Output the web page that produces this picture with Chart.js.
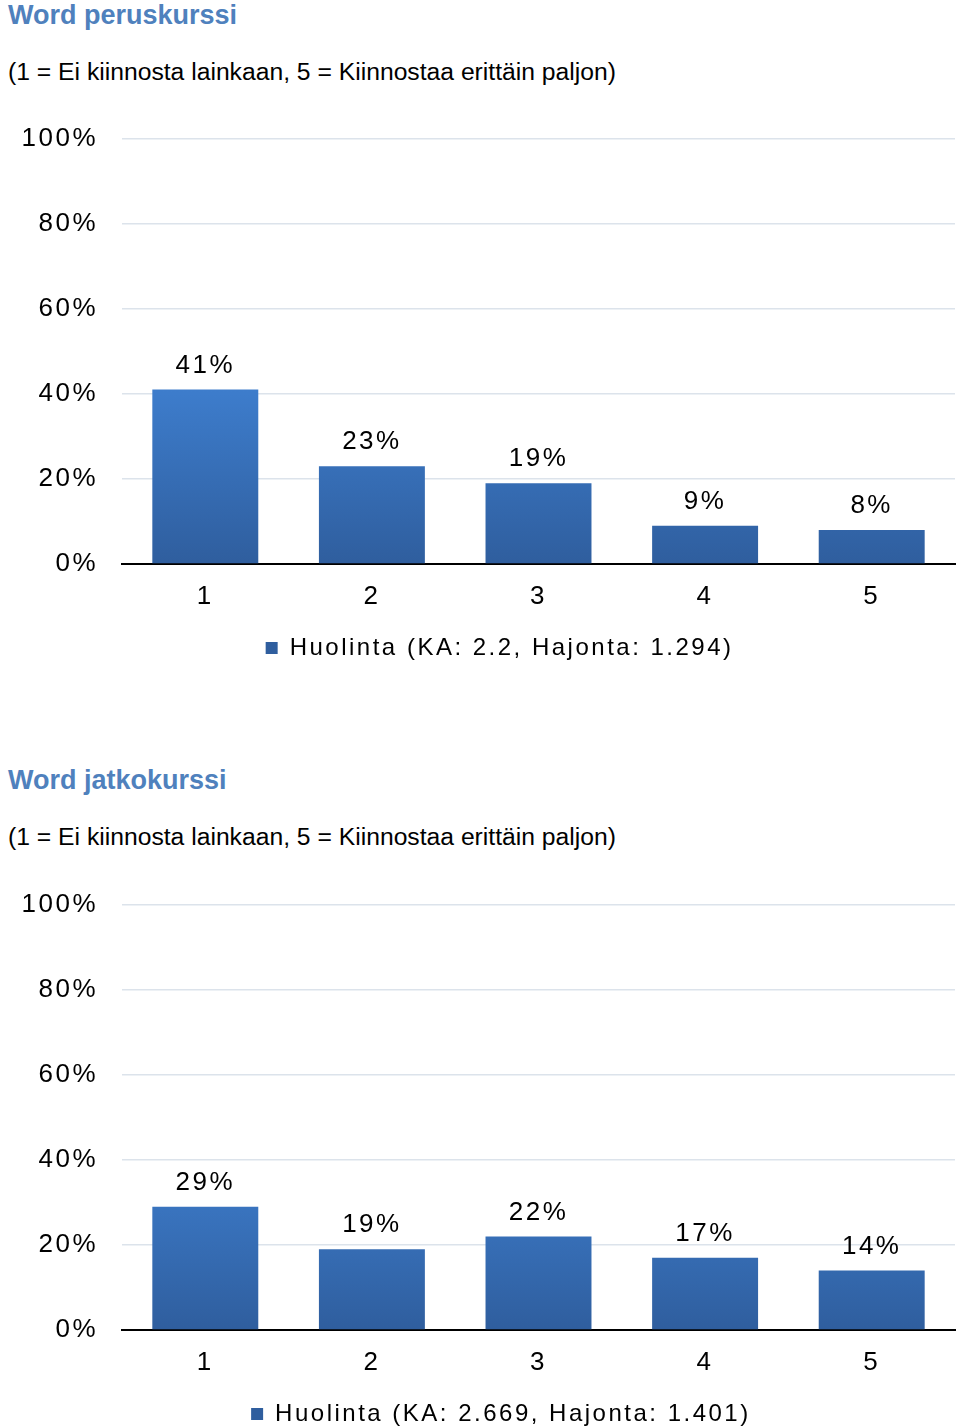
<!DOCTYPE html>
<html>
<head>
<meta charset="utf-8">
<script src="https://cdn.jsdelivr.net/npm/chart.js@4.4.1/dist/chart.umd.min.js"></script>
<style>
  body { margin: 0; width: 960px; height: 1427px; overflow: hidden; background: #fff; font-family: "Liberation Sans", Arial, sans-serif; position: relative; }
  .title { position: absolute; left: 8px; font-weight: bold; font-size: 27px; color: #4F81BD; line-height: 30px; }
  .sub { position: absolute; left: 8px; font-size: 24.7px; color: #000; line-height: 28px; }
  .box { position: absolute; left: 0; width: 960px; height: 571px; }
</style>
</head>
<body>
<div class="title" style="top:0px">Word peruskurssi</div>
<div class="sub" style="top:58px">(1 = Ei kiinnosta lainkaan, 5 = Kiinnostaa erittäin paljon)</div>
<div class="box" style="top:99px"><canvas id="perus"></canvas></div>

<div class="title" style="top:765px">Word jatkokurssi</div>
<div class="sub" style="top:823px">(1 = Ei kiinnosta lainkaan, 5 = Kiinnostaa erittäin paljon)</div>
<div class="box" style="top:865px"><canvas id="jatko"></canvas></div>

<script>
const categories = ['1', '2', '3', '4', '5'];
const perusValues = [41, 23, 19, 9, 8];
const jatkoValues = [29, 19, 22, 17, 14];
const perusLegend = 'Huolinta (KA: 2.2, Hajonta: 1.294)';
const jatkoLegend = 'Huolinta (KA: 2.669, Hajonta: 1.401)';
const yTicks = [0, 20, 40, 60, 80, 100];

const FONT = '"Liberation Sans", Arial, sans-serif';

function barFill(ctx) {
  const area = ctx.chart.chartArea;
  if (!area) return '#3A70B8';
  const g = ctx.chart.ctx.createLinearGradient(0, area.top, 0, area.bottom);
  g.addColorStop(0, '#4A8BDB');
  g.addColorStop(0.6, '#3D7CCB');
  g.addColorStop(1, '#2F5E9E');
  return g;
}

// wide letter spacing like the original; measured a bit narrower so the legend sits where it did
const spacing = {
  id: 'spacing',
  beforeLayout(chart) { chart.ctx.letterSpacing = '1.2px'; },
  beforeDraw(chart) { chart.ctx.letterSpacing = '2.5px'; }
};

const valueLabels = {
  id: 'valueLabels',
  afterDatasetsDraw(chart) {
    const ctx = chart.ctx;
    const meta = chart.getDatasetMeta(0);
    ctx.save();
    ctx.font = '26px ' + FONT;
    ctx.fillStyle = '#000';
    ctx.textAlign = 'center';
    ctx.textBaseline = 'middle';
    meta.data.forEach((bar, i) => {
      ctx.fillText(chart.data.datasets[0].data[i] + '%', bar.x, bar.y - 24);
    });
    ctx.restore();
  }
};

function makeChart(id, values, legendText) {
  new Chart(document.getElementById(id), {
    type: 'bar',
    data: {
      labels: categories,
      datasets: [{
        label: legendText,
        data: values,
        backgroundColor: barFill,
        borderWidth: 0,
        barPercentage: 0.636,
        categoryPercentage: 1
      }]
    },
    options: {
      responsive: true,
      maintainAspectRatio: false,
      animation: false,
      layout: { padding: { top: 15, right: 5, bottom: 0, left: 0 } },
      plugins: {
        tooltip: { enabled: false },
        legend: {
          position: 'bottom',
          labels: {
            boxWidth: 12,
            boxHeight: 12,
            padding: 12,
            color: '#000',
            font: { family: FONT, size: 24 }
          }
        }
      },
      scales: {
        x: {
          grid: { display: false },
          border: { display: true, color: '#000', width: 2 },
          ticks: { color: '#000', padding: 9, font: { family: FONT, size: 26 } },
          afterFit(scale) { scale.height = 60; }
        },
        y: {
          min: 0,
          max: 100,
          afterBuildTicks(scale) { scale.ticks = yTicks.map(v => ({ value: v })); },
          grid: { color: '#DCE3EB', lineWidth: 1.5, drawTicks: false },
          border: { display: false },
          ticks: {
            color: '#000',
            padding: 24,
            font: { family: FONT, size: 26 },
            callback: v => v + '%'
          },
          afterFit(scale) { scale.width = 122; }
        }
      }
    },
    plugins: [spacing, valueLabels]
  });
}

makeChart('perus', perusValues, perusLegend);
makeChart('jatko', jatkoValues, jatkoLegend);
</script>
</body>
</html>
